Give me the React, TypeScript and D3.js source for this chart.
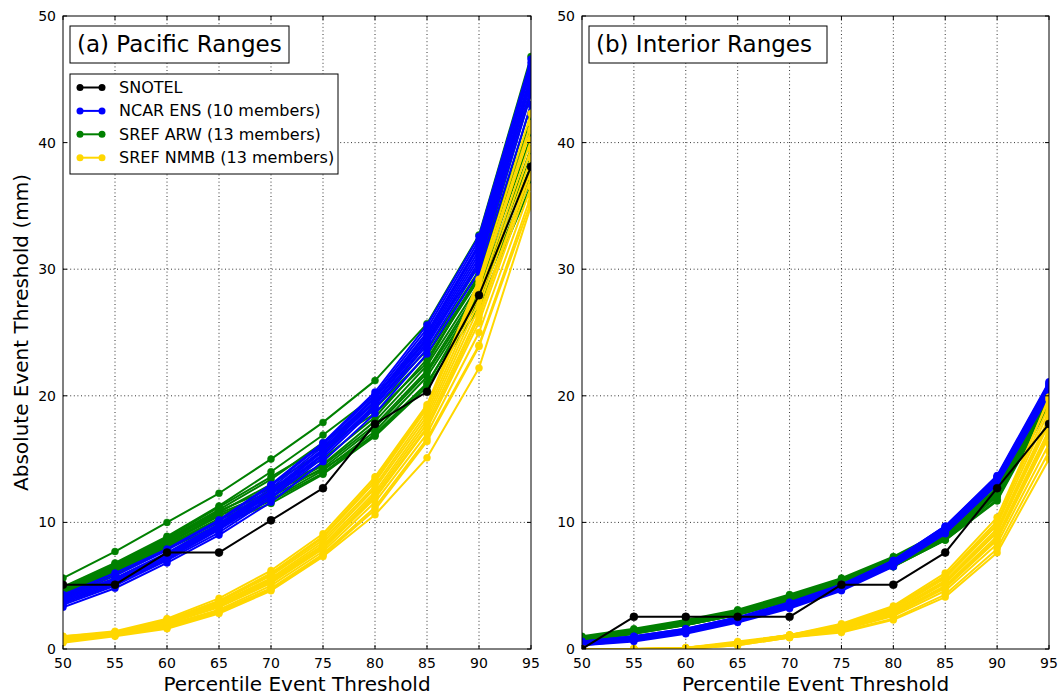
import React from "react";
import * as d3 from "d3";

// Percentile thresholds on the x axis
const percentiles = [50, 55, 60, 65, 70, 75, 80, 85, 90, 95];
const yTicks = [0, 10, 20, 30, 40, 50];

// ---------- (a) Pacific Ranges ----------
const pacSnotel = [5.08, 5.08, 7.62, 7.62, 10.16, 12.7, 17.78, 20.32, 27.94, 38.1];

const pacNcar = [
  [3.3, 4.8, 6.8, 9.0, 11.6, 14.8, 18.6, 23.3, 29.8, 43.0],
  [3.5, 5.0, 7.0, 9.2, 11.9, 15.1, 19.0, 23.7, 30.3, 43.8],
  [3.6, 5.1, 7.1, 9.4, 12.0, 15.3, 19.2, 24.0, 30.6, 44.3],
  [3.7, 5.2, 7.2, 9.5, 12.2, 15.4, 19.3, 24.2, 30.9, 44.7],
  [3.8, 5.3, 7.3, 9.6, 12.3, 15.6, 19.5, 24.4, 31.2, 45.1],
  [3.9, 5.4, 7.4, 9.7, 12.4, 15.7, 19.6, 24.6, 31.5, 45.4],
  [4.0, 5.5, 7.5, 9.8, 12.5, 15.8, 19.8, 24.8, 31.8, 45.8],
  [4.1, 5.6, 7.6, 9.9, 12.7, 16.0, 19.9, 25.0, 32.0, 46.0],
  [4.2, 5.8, 7.8, 10.1, 12.9, 16.2, 20.1, 25.3, 32.3, 46.3],
  [4.3, 6.0, 7.9, 10.2, 13.0, 16.3, 20.3, 25.6, 32.6, 46.6],
];

const pacArw = [
  [5.6, 7.7, 10.0, 12.3, 15.0, 17.9, 21.2, 25.7, 32.7, 46.8],
  [4.9, 6.8, 8.9, 11.3, 14.0, 16.9, 20.0, 24.4, 30.3, 45.2],
  [4.7, 6.6, 8.7, 11.0, 13.4, 16.3, 19.4, 23.6, 29.9, 44.0],
  [4.5, 6.4, 8.5, 10.8, 13.0, 15.6, 19.0, 23.2, 29.4, 43.0],
  [4.6, 6.5, 8.6, 10.9, 12.7, 15.0, 18.3, 22.9, 29.2, 41.5],
  [4.4, 6.2, 8.3, 10.5, 12.5, 14.6, 18.0, 22.4, 28.8, 40.5],
  [4.3, 6.1, 8.2, 10.3, 12.3, 14.5, 17.7, 22.0, 28.5, 39.5],
  [4.2, 6.0, 8.1, 10.2, 12.0, 14.3, 17.5, 21.8, 28.2, 38.9],
  [4.6, 6.3, 8.4, 10.6, 11.8, 14.1, 17.2, 21.5, 27.9, 38.2],
  [4.1, 5.9, 8.0, 10.0, 11.7, 13.9, 17.0, 21.0, 27.5, 37.5],
  [4.0, 5.8, 7.9, 9.8, 11.5, 13.8, 16.8, 20.7, 27.0, 36.6],
  [4.4, 6.3, 8.3, 10.7, 12.4, 14.2, 16.9, 20.9, 28.0, 37.0],
  [4.8, 6.7, 8.8, 11.2, 13.6, 16.0, 18.6, 22.6, 29.6, 42.0],
];

const pacNmmb = [
  [0.5, 1.0, 1.6, 2.8, 4.6, 7.3, 10.6, 15.1, 22.2, 35.0],
  [0.6, 1.1, 1.8, 3.0, 4.8, 7.5, 11.2, 16.6, 24.0, 35.8],
  [0.7, 1.1, 1.9, 3.1, 5.0, 7.7, 11.6, 17.0, 25.0, 36.5],
  [0.7, 1.2, 2.0, 3.3, 5.2, 7.9, 11.9, 17.4, 25.8, 37.3],
  [0.8, 1.2, 2.0, 3.4, 5.3, 8.0, 12.2, 17.8, 26.5, 38.0],
  [0.8, 1.2, 2.1, 3.5, 5.5, 8.2, 12.4, 18.1, 27.0, 38.8],
  [0.9, 1.3, 2.2, 3.6, 5.6, 8.4, 12.7, 18.4, 27.5, 39.5],
  [0.9, 1.3, 2.2, 3.7, 5.8, 8.6, 12.9, 18.7, 28.0, 40.2],
  [1.0, 1.3, 2.3, 3.8, 5.9, 8.8, 13.2, 19.0, 28.6, 41.0],
  [1.0, 1.4, 2.4, 4.0, 6.2, 9.1, 13.6, 19.3, 29.2, 42.3],
  [0.6, 1.1, 1.7, 2.9, 4.7, 7.4, 11.0, 16.4, 23.9, 35.3],
  [0.8, 1.2, 2.1, 3.5, 5.4, 8.1, 12.0, 17.5, 26.2, 37.8],
  [0.9, 1.3, 2.3, 3.8, 6.0, 8.9, 13.4, 19.1, 28.9, 41.5],
];

// ---------- (b) Interior Ranges ----------
const intSnotel = [0, 2.54, 2.54, 2.54, 2.54, 5.08, 5.08, 7.62, 12.7, 17.78];

const intNcar = [
  [0.3, 0.6, 1.2, 2.1, 3.2, 4.6, 6.5, 9.1, 13.0, 20.0],
  [0.3, 0.7, 1.3, 2.2, 3.3, 4.7, 6.6, 9.2, 13.1, 20.2],
  [0.4, 0.7, 1.3, 2.2, 3.3, 4.7, 6.7, 9.3, 13.2, 20.3],
  [0.4, 0.8, 1.4, 2.3, 3.4, 4.8, 6.7, 9.4, 13.3, 20.5],
  [0.4, 0.8, 1.4, 2.3, 3.4, 4.8, 6.8, 9.4, 13.3, 20.6],
  [0.5, 0.8, 1.4, 2.3, 3.5, 4.9, 6.8, 9.5, 13.4, 20.7],
  [0.5, 0.9, 1.5, 2.4, 3.5, 4.9, 6.9, 9.5, 13.5, 20.8],
  [0.5, 0.9, 1.5, 2.4, 3.6, 5.0, 6.9, 9.6, 13.6, 20.9],
  [0.6, 1.0, 1.6, 2.5, 3.6, 5.0, 7.0, 9.7, 13.6, 21.0],
  [0.6, 1.0, 1.6, 2.5, 3.7, 5.1, 7.0, 9.7, 13.7, 21.1],
];

const intArw = [
  [1.0, 1.6, 2.3, 3.1, 4.3, 5.6, 7.3, 9.4, 12.9, 20.5],
  [0.9, 1.5, 2.2, 3.0, 4.2, 5.5, 7.2, 9.3, 12.7, 20.3],
  [0.9, 1.5, 2.2, 3.0, 4.1, 5.4, 7.1, 9.2, 12.6, 20.2],
  [0.8, 1.4, 2.1, 2.9, 4.1, 5.4, 7.0, 9.1, 12.5, 20.1],
  [0.8, 1.4, 2.1, 2.9, 4.0, 5.3, 6.9, 9.0, 12.4, 20.0],
  [0.8, 1.4, 2.0, 2.8, 4.0, 5.3, 6.9, 9.0, 12.3, 19.9],
  [0.7, 1.3, 2.0, 2.8, 3.9, 5.2, 6.8, 8.9, 12.2, 19.8],
  [0.7, 1.3, 2.0, 2.8, 3.9, 5.2, 6.7, 8.8, 12.1, 19.7],
  [0.7, 1.3, 1.9, 2.7, 3.8, 5.1, 6.6, 8.7, 12.0, 19.5],
  [0.6, 1.2, 1.9, 2.7, 3.8, 5.1, 6.5, 8.6, 11.8, 19.4],
  [0.6, 1.2, 1.9, 2.7, 3.8, 5.1, 6.5, 8.6, 11.7, 19.2],
  [0.9, 1.5, 2.2, 3.0, 4.2, 5.4, 7.1, 9.2, 12.5, 20.0],
  [0.8, 1.4, 2.1, 2.9, 4.0, 5.3, 6.9, 9.0, 12.2, 19.6],
];

const intNmmb = [
  [0, 0, 0, 0.3, 0.9, 1.3, 2.3, 4.1, 7.6, 15.0],
  [0, 0, 0, 0.3, 0.9, 1.4, 2.4, 4.3, 7.9, 15.6],
  [0, 0, 0, 0.4, 0.9, 1.5, 2.6, 4.6, 8.3, 16.2],
  [0, 0, 0, 0.4, 1.0, 1.5, 2.7, 4.8, 8.6, 16.8],
  [0, 0, 0, 0.4, 1.0, 1.6, 2.8, 5.0, 8.9, 17.3],
  [0, 0, 0, 0.5, 1.0, 1.7, 2.9, 5.2, 9.2, 17.8],
  [0, 0, 0, 0.5, 1.0, 1.7, 3.0, 5.4, 9.5, 18.3],
  [0, 0, 0.1, 0.5, 1.1, 1.8, 3.1, 5.6, 9.8, 18.8],
  [0, 0, 0.1, 0.5, 1.1, 1.9, 3.3, 5.8, 10.1, 19.2],
  [0, 0, 0.1, 0.6, 1.1, 2.0, 3.4, 6.0, 10.4, 19.7],
  [0, 0, 0, 0.4, 1.0, 1.6, 2.8, 4.9, 8.7, 17.0],
  [0, 0, 0, 0.5, 1.0, 1.7, 3.0, 5.3, 9.3, 18.0],
  [0, 0, 0.1, 0.5, 1.1, 1.8, 3.2, 5.7, 9.9, 19.9],
];

const legendItems = [
  { label: "SNOTEL", color: "#000000" },
  { label: "NCAR ENS (10 members)", color: "#0000ff" },
  { label: "SREF ARW (13 members)", color: "#008000" },
  { label: "SREF NMMB (13 members)", color: "#ffd700" },
];

const FONT = "'DejaVu Sans', sans-serif";
const W = 1060;
const H = 695;
const TOP = 16;
const BOTTOM = 649;

type PanelProps = {
  id: string;
  left: number;
  right: number;
  title: string;
  titleBoxWidth: number;
  snotel: number[];
  ncar: number[][];
  arw: number[][];
  nmmb: number[][];
  showLegend: boolean;
};

function Series({ values, color, x, y, r }: { values: number[]; color: string; x: d3.ScaleLinear<number, number>; y: d3.ScaleLinear<number, number>; r: number }) {
  const line = d3
    .line<number>()
    .x((_, i) => x(percentiles[i]))
    .y((d) => y(d));
  return (
    <g>
      <path d={line(values) ?? ""} fill="none" stroke={color} strokeWidth={2} strokeLinejoin="round" />
      {values.map((v, i) => (
        <circle key={i} cx={x(percentiles[i])} cy={y(v)} r={r} fill={color} stroke={color} strokeWidth={0.5} />
      ))}
    </g>
  );
}

function Panel(p: PanelProps) {
  const x = d3.scaleLinear().domain([50, 95]).range([p.left, p.right]);
  const y = d3.scaleLinear().domain([0, 50]).range([BOTTOM, TOP]);
  const clipId = `clip-${p.id}`;
  const tickLen = 4;
  return (
    <g>
      <defs>
        <clipPath id={clipId}>
          <rect x={p.left} y={TOP} width={p.right - p.left} height={BOTTOM - TOP} />
        </clipPath>
      </defs>
      {/* dotted grid */}
      <g stroke="#000" strokeWidth={0.8} strokeDasharray="1,2.6">
        {percentiles.slice(1, -1).map((t) => (
          <line key={`gx${t}`} x1={x(t)} x2={x(t)} y1={TOP} y2={BOTTOM} />
        ))}
        {yTicks.slice(1, -1).map((t) => (
          <line key={`gy${t}`} x1={p.left} x2={p.right} y1={y(t)} y2={y(t)} />
        ))}
      </g>
      {/* member curves, then observations on top */}
      <g clipPath={`url(#${clipId})`}>
        {p.arw.map((s, i) => (
          <Series key={`g${i}`} values={s} color="#008000" x={x} y={y} r={3.5} />
        ))}
        {p.ncar.map((s, i) => (
          <Series key={`b${i}`} values={s} color="#0000ff" x={x} y={y} r={3.5} />
        ))}
        {p.nmmb.map((s, i) => (
          <Series key={`y${i}`} values={s} color="#ffd700" x={x} y={y} r={3.5} />
        ))}
        <Series values={p.snotel} color="#000000" x={x} y={y} r={4} />
      </g>
      {/* inward ticks on all four sides */}
      <g stroke="#000" strokeWidth={1}>
        {percentiles.map((t) => (
          <g key={`tx${t}`}>
            <line x1={x(t)} x2={x(t)} y1={BOTTOM} y2={BOTTOM - tickLen} />
            <line x1={x(t)} x2={x(t)} y1={TOP} y2={TOP + tickLen} />
          </g>
        ))}
        {yTicks.map((t) => (
          <g key={`ty${t}`}>
            <line x1={p.left} x2={p.left + tickLen} y1={y(t)} y2={y(t)} />
            <line x1={p.right} x2={p.right - tickLen} y1={y(t)} y2={y(t)} />
          </g>
        ))}
      </g>
      <rect x={p.left} y={TOP} width={p.right - p.left} height={BOTTOM - TOP} fill="none" stroke="#000" strokeWidth={1} />
      {/* tick labels */}
      <g fontFamily={FONT} fontSize={14} fill="#000">
        {percentiles.map((t) => (
          <text key={`lx${t}`} x={x(t)} y={BOTTOM + 19} textAnchor="middle">
            {t}
          </text>
        ))}
        {yTicks.map((t) => (
          <text key={`ly${t}`} x={p.left - 7} y={y(t) + 5} textAnchor="end">
            {t}
          </text>
        ))}
      </g>
      <text x={(p.left + p.right) / 2} y={691} textAnchor="middle" fontFamily={FONT} fontSize={20}>
        Percentile Event Threshold
      </text>
      {/* panel title box */}
      <rect x={p.left + 7} y={26} width={p.titleBoxWidth} height={37} fill="#fff" stroke="#000" strokeWidth={1} />
      <text x={p.left + 14} y={52} fontFamily={FONT} fontSize={23}>
        {p.title}
      </text>
      {p.showLegend && (
        <g>
          <rect x={p.left + 7} y={74} width={268} height={100} fill="#fff" stroke="#000" strokeWidth={1} />
          {legendItems.map((it, i) => {
            const cy = 87.5 + i * 23.4;
            return (
              <g key={it.label}>
                <line x1={p.left + 17} x2={p.left + 39} y1={cy} y2={cy} stroke={it.color} strokeWidth={2} />
                <circle cx={p.left + 17} cy={cy} r={3.5} fill={it.color} />
                <circle cx={p.left + 39} cy={cy} r={3.5} fill={it.color} />
                <text x={p.left + 56} y={cy + 5.5} fontFamily={FONT} fontSize={16}>
                  {it.label}
                </text>
              </g>
            );
          })}
        </g>
      )}
    </g>
  );
}

export default function App() {
  return (
    <svg width={W} height={H} style={{ position: "absolute", left: 0, top: 0, background: "#fff" }}>
      <rect width={W} height={H} fill="#fff" />
      <text
        transform={`translate(28, ${(TOP + BOTTOM) / 2}) rotate(-90)`}
        textAnchor="middle"
        fontFamily={FONT}
        fontSize={20}
      >
        Absolute Event Threshold (mm)
      </text>
      <Panel
        id="a"
        left={63}
        right={531}
        title="(a) Pacific Ranges"
        titleBoxWidth={219}
        snotel={pacSnotel}
        ncar={pacNcar}
        arw={pacArw}
        nmmb={pacNmmb}
        showLegend={true}
      />
      <Panel
        id="b"
        left={582}
        right={1049}
        title="(b) Interior Ranges"
        titleBoxWidth={238}
        snotel={intSnotel}
        ncar={intNcar}
        arw={intArw}
        nmmb={intNmmb}
        showLegend={false}
      />
    </svg>
  );
}
